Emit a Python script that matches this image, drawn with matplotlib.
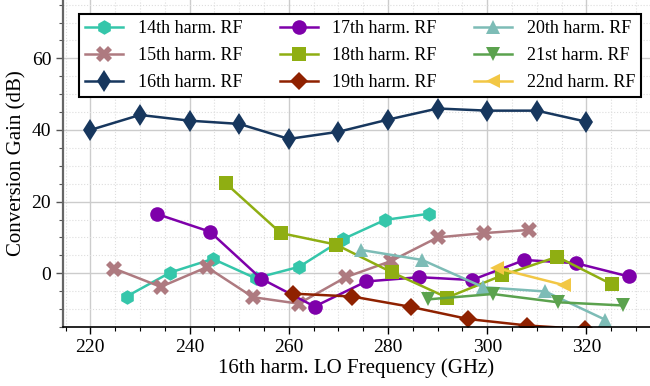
import matplotlib
matplotlib.use("Agg")
import matplotlib.pyplot as plt
from matplotlib.ticker import MultipleLocator

plt.rcParams['font.family'] = ['Liberation Serif', 'DejaVu Serif']
plt.rcParams['mathtext.fontset'] = 'stix'

# ---- data (x: 16th harm. LO frequency in GHz, y: conversion gain in dB) ----
labels = ["14th harm. RF", "15th harm. RF", "16th harm. RF",
          "17th harm. RF", "18th harm. RF", "19th harm. RF",
          "20th harm. RF", "21st harm. RF", "22nd harm. RF"]

x14 = [227.3, 236.1, 244.7, 253.3, 262.1, 270.9, 279.4, 288.2]
y14 = [-6.5, 0.2, 4.0, -1.4, 1.8, 9.5, 14.9, 16.6]

x15 = [224.8, 234.2, 243.5, 252.8, 262.0, 271.5, 280.6, 290.0, 299.3, 308.5]
y15 = [1.3, -3.8, 1.7, -6.7, -8.5, -1.1, 3.4, 10.0, 11.2, 12.1]

x16 = [220, 230, 240, 250, 260, 270, 280, 290, 300, 310, 320]
y16 = [40.0, 44.2, 42.6, 41.7, 37.5, 39.5, 42.9, 46.0, 45.4, 45.4, 42.3]

x17 = [233.5, 244.1, 254.4, 265.2, 275.6, 286.3, 296.9, 307.5, 317.9, 328.5]
y17 = [16.5, 11.6, -1.5, -9.3, -2.3, -1.1, -1.9, 3.7, 2.8, -0.9]

x18 = [247.3, 258.4, 269.5, 280.7, 291.9, 303.0, 314.1, 325.1]
y18 = [25.1, 11.2, 8.0, 0.3, -6.8, -0.6, 4.6, -3.1]

x19 = [260.8, 272.8, 284.6, 296.2, 308.1, 319.7]
y19 = [-5.7, -6.5, -9.4, -12.8, -14.6, -15.6]

x20 = [274.6, 286.9, 299.2, 311.7, 323.8]
y20 = [6.5, 3.7, -3.9, -5.1, -13.0]

x21 = [288.1, 301.1, 314.2, 327.3]
y21 = [-7.3, -5.8, -8.1, -9.0]

x22 = [302.0, 315.4]
y22 = [1.4, -3.3]

xs = [x14, x15, x16, x17, x18, x19, x20, x21, x22]
ys = [y14, y15, y16, y17, y18, y19, y20, y21, y22]

colors = ["#35c6aa", "#ae7a80", "#17375e", "#7e00aa", "#8fae12",
          "#8f2100", "#7dbcb6", "#5ba24e", "#f2c744"]
markers = ["h", "X", "d", "o", "s", "D", "^", "v", "<"]
msizes = [10.5, 11, 11.5, 10.5, 10, 9, 10.5, 10.5, 10.5]

fig = plt.figure(figsize=(6.5, 3.86), dpi=100)
ax = fig.add_axes([0.097, 0.153, 0.903, 0.847])

for x, y, c, m, ms, lab in zip(xs, ys, colors, markers, msizes, labels):
    ax.plot(x, y, color=c, marker=m, markersize=ms, linewidth=1.8,
            markeredgewidth=0, label=lab)

ax.set_xlim(214.5, 332.8)
ax.set_ylim(-15.0, 76.3)
ax.xaxis.set_major_locator(MultipleLocator(20))
ax.xaxis.set_minor_locator(MultipleLocator(5))
ax.yaxis.set_major_locator(MultipleLocator(20))
ax.yaxis.set_minor_locator(MultipleLocator(5))

ax.grid(which='major', color='#cccccc', linewidth=1.0, linestyle='-')
ax.grid(which='minor', color='#dddddd', linewidth=0.8, linestyle=':')
ax.set_axisbelow(True)

for s in ['top', 'right']:
    ax.spines[s].set_visible(False)
ax.spines['left'].set_color('#666666')
ax.spines['left'].set_linewidth(1.6)
ax.spines['bottom'].set_color('black')
ax.spines['bottom'].set_linewidth(1.2)

ax.tick_params(axis='both', which='major', labelsize=14, length=5, width=1)
ax.tick_params(axis='both', which='minor', length=3, width=0.8)
ax.tick_params(axis='y', which='both', color='#555555')

ax.set_xlabel("16th harm. LO Frequency (GHz)", fontsize=15, labelpad=2)
ax.set_ylabel("Conversion Gain (dB)", fontsize=15, labelpad=4)

leg = ax.legend(ncol=3, loc='upper left', bbox_to_anchor=(0.027, 0.958, 0.958, 0.0),
                mode='expand', fontsize=13, frameon=True, fancybox=False,
                edgecolor='black', framealpha=1.0, handlelength=2.1,
                handletextpad=0.8, columnspacing=2.0, borderpad=0.35,
                labelspacing=0.55, borderaxespad=0.0)
leg.get_frame().set_linewidth(1.5)

fig.savefig("out.png", dpi=100)
